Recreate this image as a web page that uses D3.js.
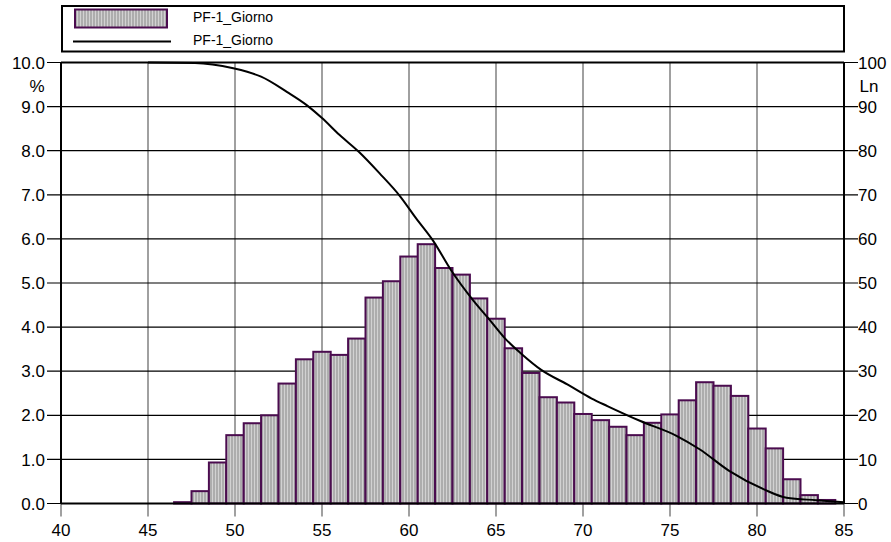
<!DOCTYPE html>
<html>
<head>
    <title>PF-1_Giorno</title>
    <script src="https://d3js.org/d3.v7.min.js"></script>
    <style>
        body { margin: 0; background: #fff; }
        text { font-family: "Liberation Sans", Arial, sans-serif; fill: #000; }
    </style>
</head>
<body>
<script>
    // class centres (dB) and share of time (%)
    const levels = [47, 48, 49, 50, 51, 52, 53, 54, 55, 56, 57, 58, 59, 60, 61, 62, 63, 64, 65,
        66, 67, 68, 69, 70, 71, 72, 73, 74, 75, 76, 77, 78, 79, 80, 81, 82, 83, 84];
    const percent = [0.03, 0.28, 0.93, 1.55, 1.82, 2.0, 2.72, 3.27, 3.44, 3.37, 3.74, 4.67, 5.04, 5.6,
        5.88, 5.34, 5.19, 4.65, 4.19, 3.52, 2.96, 2.41, 2.29, 2.03, 1.89, 1.74, 1.55, 1.83,
        2.02, 2.34, 2.75, 2.67, 2.44, 1.70, 1.25, 0.55, 0.19, 0.08];

    // cumulative curve Ln
    const lnX = [45, 47.7, 49.9, 50.7, 51.5, 53.0, 54.1, 55.0, 56.0, 57.1, 58.3, 59.5, 60.4,
        61.4, 62.4, 63.7, 64.6, 65.5, 66.5, 67.6, 69.1, 70.5, 71.4, 73.3, 75.4, 76.7, 78.4,
        80.4, 81.7, 83.4, 85];
    const lnY = [100, 99.9, 98.7, 97.9, 96.8, 93.3, 90.4, 87.4, 83.6, 79.8, 74.9, 69.6, 64.7,
        59.5, 53.0, 46.0, 41.8, 37.5, 33.8, 30.3, 27.0, 23.8, 22.1, 18.7, 15.3, 12.3, 7.4,
        3.2, 1.3, 0.75, 0.3];

    const xTicks = [40, 45, 50, 55, 60, 65, 70, 75, 80, 85];
    const yTicks = [0, 1, 2, 3, 4, 5, 6, 7, 8, 9, 10];
    const lnTicks = [0, 10, 20, 30, 40, 50, 60, 70, 80, 90, 100];
    const seriesName = "PF-1_Giorno";

    const width = 891, height = 542;
    const plotL = 61, plotR = 844, plotT = 62.5, plotB = 503.5;
    const barStroke = "#4b0c4f";

    const svg = d3.select("body").append("svg")
        .attr("width", width)
        .attr("height", height);

    // striped grey fill of the bars
    const pat = svg.append("defs").append("pattern")
        .attr("id", "stripes")
        .attr("patternUnits", "userSpaceOnUse")
        .attr("width", 3).attr("height", 10);
    pat.append("rect").attr("width", 3).attr("height", 10).attr("fill", "#adadad");
    pat.append("rect").attr("x", 2).attr("width", 1).attr("height", 10).attr("fill", "#d2d2d2");

    const x = d3.scaleLinear().domain([40, 85]).range([plotL, plotR]);
    const y = d3.scaleLinear().domain([0, 10]).range([plotB, plotT]);
    const yLn = d3.scaleLinear().domain([0, 100]).range([plotB, plotT]);

    // grid
    svg.append("g").selectAll("line")
        .data(xTicks)
        .join("line")
        .attr("x1", d => x(d)).attr("x2", d => x(d))
        .attr("y1", plotT).attr("y2", plotB + 13)
        .attr("stroke", "#808080")
        .attr("stroke-width", 1.5);

    svg.append("g").selectAll("line")
        .data(yTicks)
        .join("line")
        .attr("x1", plotL - 14).attr("x2", plotR + 14)
        .attr("y1", d => y(d)).attr("y2", d => y(d))
        .attr("stroke", "#000")
        .attr("stroke-width", 1.2);

    // bars
    svg.append("g").selectAll("rect")
        .data(levels)
        .join("rect")
        .attr("x", (d) => x(d - 0.5))
        .attr("y", (d, i) => y(percent[i]))
        .attr("width", d => x(d + 0.5) - x(d - 0.5))
        .attr("height", (d, i) => y(0) - y(percent[i]))
        .attr("fill", "url(#stripes)")
        .attr("stroke", barStroke)
        .attr("stroke-width", 2);

    // Ln curve
    const line = d3.line()
        .x(d => x(d[0]))
        .y(d => yLn(d[1]))
        .curve(d3.curveMonotoneX);

    svg.append("path")
        .datum(lnX.map((v, i) => [v, lnY[i]]))
        .attr("d", line)
        .attr("fill", "none")
        .attr("stroke", "#000")
        .attr("stroke-width", 2);

    // frame
    svg.append("line").attr("x1", plotL).attr("x2", plotR).attr("y1", plotT).attr("y2", plotT)
        .attr("stroke", "#000").attr("stroke-width", 2);
    svg.append("line").attr("x1", plotL).attr("x2", plotR).attr("y1", plotB).attr("y2", plotB)
        .attr("stroke", "#000").attr("stroke-width", 2);
    svg.append("line").attr("x1", plotL).attr("x2", plotL).attr("y1", plotT).attr("y2", plotB)
        .attr("stroke", "#000").attr("stroke-width", 2);
    svg.append("line").attr("x1", plotR).attr("x2", plotR).attr("y1", plotT).attr("y2", plotB)
        .attr("stroke", "#000").attr("stroke-width", 2);

    // tick labels
    svg.append("g").selectAll("text")
        .data(xTicks)
        .join("text")
        .attr("x", d => x(d))
        .attr("y", 536)
        .attr("text-anchor", "middle")
        .style("font-size", "17px")
        .text(d => d);

    svg.append("g").selectAll("text")
        .data(yTicks)
        .join("text")
        .attr("x", plotL - 16)
        .attr("y", d => y(d))
        .attr("dy", "0.36em")
        .attr("text-anchor", "end")
        .style("font-size", "17px")
        .text(d => d3.format(".1f")(d));

    svg.append("g").selectAll("text")
        .data(lnTicks)
        .join("text")
        .attr("x", plotR + 14)
        .attr("y", d => yLn(d))
        .attr("dy", "0.36em")
        .style("font-size", "17px")
        .text(d => d);

    svg.append("text").attr("x", 37).attr("y", 92)
        .attr("text-anchor", "middle").style("font-size", "17px").text("%");
    svg.append("text").attr("x", 869).attr("y", 92)
        .attr("text-anchor", "middle").style("font-size", "17px").text("Ln");

    // legend
    const legend = svg.append("g");
    legend.append("rect")
        .attr("x", 62).attr("y", 6)
        .attr("width", plotR - 62).attr("height", 45.5)
        .attr("fill", "#fff")
        .attr("stroke", "#000")
        .attr("stroke-width", 2);
    legend.append("rect")
        .attr("x", 75).attr("y", 9.5)
        .attr("width", 92).attr("height", 18)
        .attr("fill", "url(#stripes)")
        .attr("stroke", barStroke)
        .attr("stroke-width", 2);
    legend.append("line")
        .attr("x1", 73).attr("x2", 171)
        .attr("y1", 41.5).attr("y2", 41.5)
        .attr("stroke", "#000").attr("stroke-width", 2);
    legend.selectAll("text.lab")
        .data([22, 45])
        .join("text")
        .attr("class", "lab")
        .attr("x", 193)
        .attr("y", d => d)
        .style("font-size", "14px")
        .text(seriesName);
</script>
</body>
</html>
